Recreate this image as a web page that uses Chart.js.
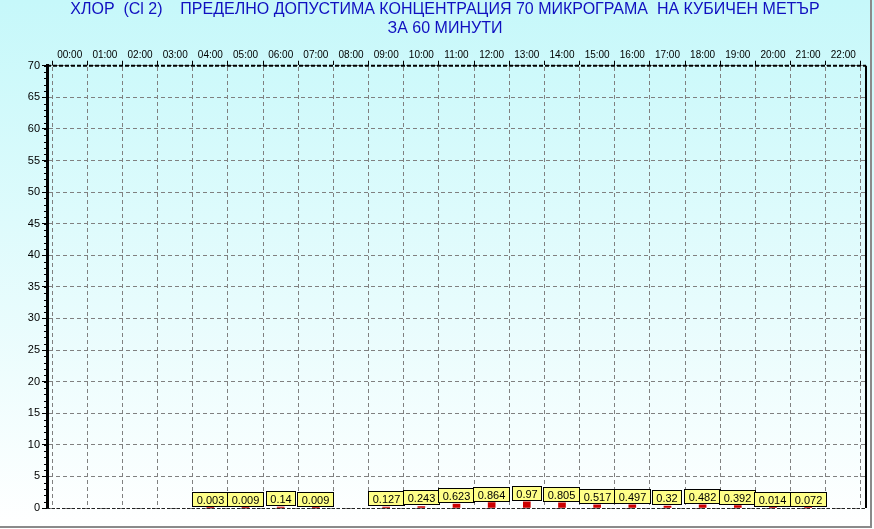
<!DOCTYPE html>
<html>
<head>
<meta charset="utf-8">
<script src="https://cdn.jsdelivr.net/npm/chart.js@4/dist/chart.umd.min.js"></script>
<style>
  html, body { margin: 0; padding: 0; background: #fff; }
  #wrap { width: 874px; height: 529px; background: linear-gradient(to bottom, #c6f8fa 0%, #ffffff 100%); }
</style>
</head>
<body>
<div id="wrap"><canvas id="chart" width="874" height="529"></canvas></div>
<script>
// Hourly chlorine concentration, µg/m3
const HOURS = [
  '00:00', '01:00', '02:00', '03:00', '04:00', '05:00', '06:00', '07:00',
  '08:00', '09:00', '10:00', '11:00', '12:00', '13:00', '14:00', '15:00',
  '16:00', '17:00', '18:00', '19:00', '20:00', '21:00', '22:00',
];
const VALUES = [
  null, null, null, null, 0.003, 0.009, 0.14, 0.009,
  null, 0.127, 0.243, 0.623, 0.864, 0.97, 0.805, 0.517,
  0.497, 0.32, 0.482, 0.392, 0.014, 0.072, null,
];
const TITLE = [
  'ХЛОР  (Cl 2)    ПРЕДЕЛНО ДОПУСТИМА КОНЦЕНТРАЦИЯ 70 МИКРОГРАМА  НА КУБИЧЕН МЕТЪР',
  'ЗА 60 МИНУТИ',
];
const Y_MAX = 70;
const Y_STEP = 5;

const FONT = '"Liberation Sans", Arial, sans-serif';

// frame, minor ticks and right/top/bottom borders
const framePlugin = {
  id: 'frame',
  afterDraw(chart) {
    const { ctx, chartArea: a, scales } = chart;
    ctx.save();
    // minor ticks on the value axis
    ctx.strokeStyle = '#000';
    ctx.lineWidth = 1;
    for (let v = 0; v <= Y_MAX; v++) {
      const y = Math.round(scales.y.getPixelForValue(v)) + 0.5;
      ctx.beginPath();
      ctx.moveTo(a.left - 3, y);
      ctx.lineTo(a.left + 1, y);
      ctx.stroke();
    }
    // right border
    ctx.lineWidth = 2;
    ctx.beginPath();
    ctx.moveTo(a.right, a.top);
    ctx.lineTo(a.right, a.bottom);
    ctx.stroke();
    // top border (heavy dashed)
    ctx.setLineDash([4, 2]);
    ctx.beginPath();
    ctx.moveTo(a.left, a.top);
    ctx.lineTo(a.right, a.top);
    ctx.stroke();
    // bottom border (dashed)
    ctx.lineWidth = 1;
    ctx.setLineDash([3, 2]);
    ctx.strokeStyle = '#222';
    ctx.beginPath();
    ctx.moveTo(a.left, a.bottom + 0.5);
    ctx.lineTo(a.right, a.bottom + 0.5);
    ctx.stroke();
    ctx.setLineDash([]);
    // outer sunken edge
    ctx.strokeStyle = '#8a8a8a';
    ctx.lineWidth = 2;
    ctx.beginPath();
    ctx.moveTo(0, 527);
    ctx.lineTo(871, 527);
    ctx.lineTo(871, 0);
    ctx.stroke();
    ctx.restore();
  },
};

// yellow value boxes over each bar
const valueBoxes = {
  id: 'valueBoxes',
  afterDatasetsDraw(chart) {
    const { ctx } = chart;
    const meta = chart.getDatasetMeta(0);
    ctx.save();
    ctx.font = '11px ' + FONT;
    ctx.textAlign = 'center';
    ctx.textBaseline = 'middle';
    meta.data.forEach((bar, i) => {
      const v = VALUES[i];
      if (v == null) return;
      const txt = String(v);
      const w = Math.round(ctx.measureText(txt).width + 9);
      const h = 15;
      const bottom = Math.min(Math.round(bar.y) - 1, 507);
      const left = Math.round(bar.x - w / 2);
      const top = bottom - h;
      ctx.fillStyle = '#ffff88';
      ctx.fillRect(left, top, w, h);
      ctx.strokeStyle = '#000';
      ctx.lineWidth = 1;
      ctx.strokeRect(left + 0.5, top + 0.5, w - 1, h - 1);
      ctx.fillStyle = '#000';
      ctx.fillText(txt, left + w / 2, top + h / 2 + 1);
    });
    ctx.restore();
  },
};

new Chart(document.getElementById('chart'), {
  type: 'bar',
  data: {
    datasets: [{
      data: VALUES.map((v, i) => ({ x: i, y: v })),
      backgroundColor: '#cc0000',
      borderWidth: 0,
      barThickness: 7,
    }],
  },
  options: {
    responsive: false,
    animation: false,
    layout: { padding: { left: 24, right: 8, top: 0, bottom: 21 } },
    plugins: {
      legend: { display: false },
      tooltip: { enabled: false },
      title: {
        display: true,
        text: TITLE,
        color: '#1010c0',
        font: { family: FONT, size: 16, weight: 'normal', lineHeight: 1.18 },
        padding: { top: 0, bottom: 0 },
      },
    },
    scales: {
      x: {
        type: 'linear',
        position: 'top',
        min: -0.14,
        max: 22.14,
        afterFit: s => { s.height = 28; },
        ticks: {
          stepSize: 1,
          includeBounds: false,
          autoSkip: false,
          maxRotation: 0,
          padding: 0,
          color: '#000',
          font: { family: FONT, size: 10 },
          callback: v => HOURS[v],
        },
        grid: {
          color: '#808080',
          tickColor: '#000',
          tickLength: 5,
          tickBorderDash: [],
        },
        border: { display: true, color: 'rgba(0,0,0,0)', width: 2, dash: [4, 3] },
      },
      y: {
        min: 0,
        max: Y_MAX,
        afterFit: s => { s.width = 23; },
        ticks: {
          stepSize: Y_STEP,
          padding: 2,
          color: '#000',
          font: { family: FONT, size: 11 },
        },
        grid: {
          color: '#808080',
          tickColor: '#000',
          tickLength: 5,
          tickBorderDash: [],
        },
        border: { display: true, color: '#000', width: 3, dash: [4, 3] },
      },
    },
  },
  plugins: [framePlugin, valueBoxes],
});
</script>
</body>
</html>
